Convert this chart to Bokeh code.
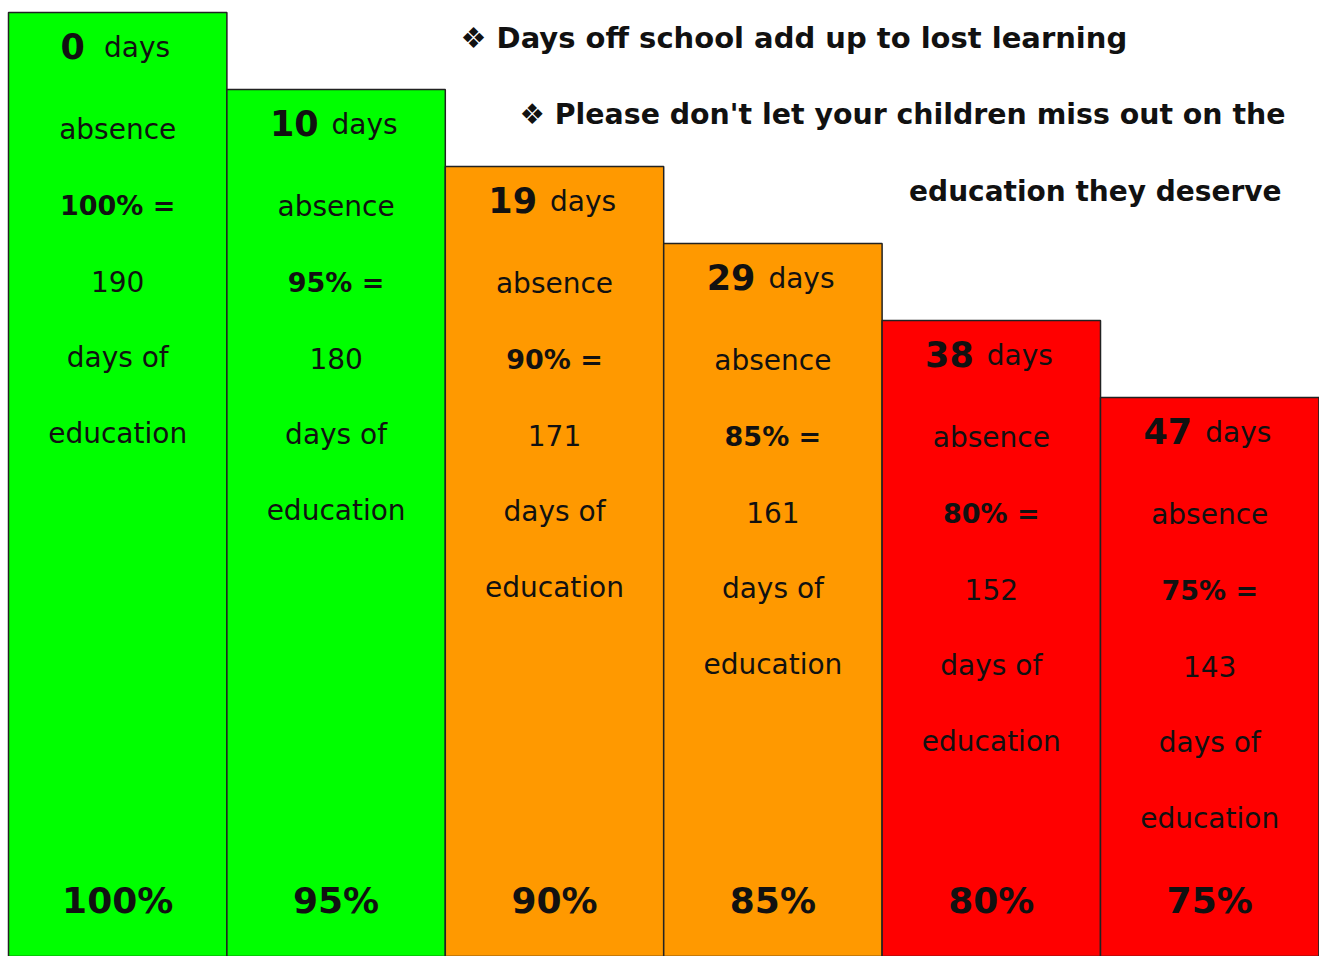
from bokeh.plotting import figure
from bokeh.models import Range1d, Label, ColumnDataSource
from bokeh.embed import file_html
from bokeh.resources import INLINE
from bokeh.core.properties import value

# ---- data ----
absence_days = [0, 10, 19, 29, 38, 47]
attendance_pct = [100, 95, 90, 85, 80, 75]
education_days = [190, 180, 171, 161, 152, 143]
bar_colors = ["#00FF00", "#00FF00", "#FF9900", "#FF9900", "#FF0000", "#FF0000"]
header_lines = [
    "\u2756 Days off school add up to lost learning",
    "\u2756 Please don't let your children miss out on the",
    "education they deserve",
]

FONT = value("DejaVu Sans")
W, H = 1319, 956
PX_PER = 15.4          # pixels per percentage point
BAR_PX = 218.4         # pixels per bar
X_START = -0.5 - 8 / BAR_PX
Y_TOP = 100 + 12 / PX_PER
Y_BOT = Y_TOP - H / PX_PER

p = figure(width=W, height=H, output_backend="svg", toolbar_location=None,
           x_range=Range1d(X_START, X_START + W / BAR_PX),
           y_range=Range1d(Y_BOT, Y_TOP),
           min_border=0, x_axis_location=None, y_axis_location=None)
p.grid.visible = False
p.outline_line_color = None
p.background_fill_color = "white"

xs = list(range(len(attendance_pct)))
src = ColumnDataSource(dict(x=xs, top=attendance_pct, color=bar_colors))
p.vbar(x="x", top="top", bottom=0, width=1.0, fill_color="color",
       line_color="#222222", line_width=1.5, source=src)

def ydown(top, px):
    return top - px / PX_PER

# first line: big bold number + "days"
num_x, num_y, num_t, num_off = [], [], [], []
day_x, day_y, day_off = [], [], []
for i, (d, t) in enumerate(zip(absence_days, attendance_pct)):
    s = str(d)
    numw = 24.5 * len(s)
    gap = 18 if len(s) == 1 else 12
    total = numw + gap + 66
    left = -total / 2
    num_x.append(i); num_y.append(ydown(t, 33)); num_t.append(s); num_off.append(left + numw - 3)
    day_x.append(i); day_y.append(ydown(t, 35)); day_off.append(left + numw + gap - 2)

p.text(x=num_x, y=num_y, text=num_t, x_offset=num_off, text_align="right",
       text_baseline="middle", text_font=FONT, text_font_style="bold",
       text_font_size="35px", text_color="#111111")
p.text(x=day_x, y=day_y, text=["days"] * len(day_x), x_offset=day_off,
       text_align="left", text_baseline="middle", text_font=FONT,
       text_font_size="28px", text_color="#111111")

# remaining lines
offsets = [117, 193, 269, 345, 421]
lx, ly, lt, lb = [], [], [], []
for i, (t, n) in enumerate(zip(attendance_pct, education_days)):
    lines = [("absence", False), (f"{t}% =", True), (str(n), False),
             ("days of", False), ("education", False)]
    for off, (txt, bold) in zip(offsets, lines):
        lx.append(i); ly.append(ydown(t, off)); lt.append(txt); lb.append(bold)

reg = [k for k in range(len(lt)) if not lb[k]]
bld = [k for k in range(len(lt)) if lb[k]]
p.text(x=[lx[k] for k in reg], y=[ly[k] for k in reg], text=[lt[k] for k in reg],
       text_align="center", text_baseline="middle", text_font=FONT,
       text_font_size="28px", text_color="#111111")
p.text(x=[lx[k] for k in bld], y=[ly[k] for k in bld], text=[lt[k] for k in bld],
       text_align="center", text_baseline="middle", text_font=FONT,
       text_font_style="bold", text_font_size="27px", text_color="#111111")

# bottom percentage labels
bottom_y = Y_TOP - 900 / PX_PER
p.text(x=xs, y=[bottom_y] * len(xs), text=[f"{t}%" for t in attendance_pct],
       text_align="center", text_baseline="middle", text_font=FONT,
       text_font_style="bold", text_font_size="36px", text_color="#111111")

# header text
hdr = [(header_lines[0], 460, 37, "left", "29px"),
       (header_lines[1], 1285, 114, "right", "28.4px"),
       (header_lines[2], 1281, 191, "right", "28px")]
for txt, x, ytop, al, fs in hdr:
    p.add_layout(Label(x=x, y=H - ytop, x_units="screen", y_units="screen",
                       text=txt, text_align=al, text_baseline="middle",
                       text_font="DejaVu Sans", text_font_style="bold",
                       text_font_size=fs, text_color="#111111"))

open("out.html", "w").write(file_html(p, INLINE))
